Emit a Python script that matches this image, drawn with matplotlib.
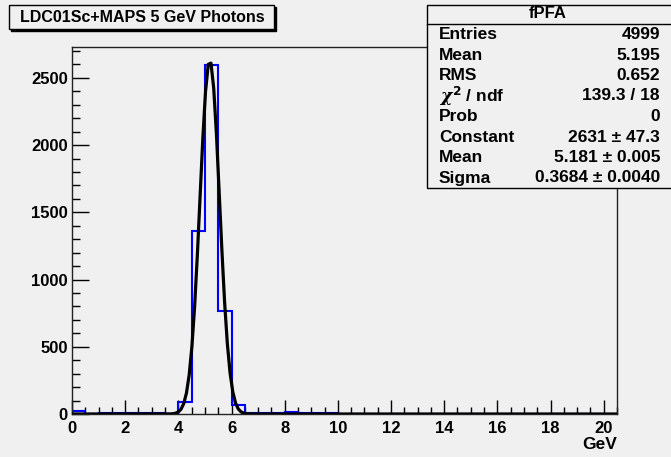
import numpy as np
import matplotlib
matplotlib.use("Agg")
import matplotlib.pyplot as plt
from matplotlib.patches import Rectangle
from matplotlib.ticker import MultipleLocator

# histogram: 41 bins of 0.5 GeV from 0 to 20.5
bin_lo = 0.0
bin_width = 0.5
counts = [21, 3, 5, 8, 8, 5, 5, 3, 89, 1365, 2596, 764, 67, 5, 5, 8, 14, 10, 10, 8,
          0, 0, 0, 0, 0, 0, 0, 0, 0, 0, 0, 0, 0, 0, 0, 0, 0, 0, 0, 0, 0]

# gaussian fit parameters (from stats box)
fit_const = 2631
fit_mean = 5.181
fit_sigma = 0.3684

stats_labels = ["Entries", "Mean", "RMS", r"$\chi^{2}$ / ndf", "Prob", "Constant", "Mean", "Sigma"]
stats_values = ["4999", "5.195", "0.652", "139.3 / 18", "0", "2631 ± 47.3", "5.181 ± 0.005", "0.3684 ± 0.0040"]

title = "LDC01Sc+MAPS 5 GeV Photons"
stats_title = "fPFA"

bg = "#f0f0f0"
plt.rcParams["font.family"] = ["Liberation Sans", "DejaVu Sans"]
plt.rcParams["font.weight"] = "bold"
plt.rcParams["mathtext.fontset"] = "custom"
plt.rcParams["mathtext.it"] = "DejaVu Serif:italic"

W, H = 671, 457
fig = plt.figure(figsize=(W / 100, H / 100), dpi=100, facecolor=bg)

def fx(px):
    return px / W

def fy(py):
    return 1 - py / H

ax = fig.add_axes([fx(72), fy(414), fx(617) - fx(72), fy(47) - fy(414)], facecolor=bg)

edges = bin_lo + bin_width * np.arange(len(counts) + 1)
ax.stairs(counts, edges, color="blue", lw=1.5, zorder=2)

# fitted gaussian drawn over the full axis range
xf = np.linspace(0, 20.5, 201)
yf = fit_const * np.exp(-0.5 * ((xf - fit_mean) / fit_sigma) ** 2)
ax.plot(xf, yf, color="black", lw=2.3, zorder=3)

ax.set_xlim(0, 20.5)
ax.set_ylim(0, 2730)

ax.xaxis.set_major_locator(MultipleLocator(2))
ax.xaxis.set_minor_locator(MultipleLocator(0.5))
ax.yaxis.set_major_locator(MultipleLocator(500))
ax.yaxis.set_minor_locator(MultipleLocator(100))

ax.tick_params(axis="x", which="major", direction="in", length=10, width=1, pad=5,
               labelsize=12, top=False)
ax.tick_params(axis="x", which="minor", direction="in", length=5, width=1, top=False)
ax.tick_params(axis="y", which="major", direction="in", length=12, width=1, pad=3,
               labelsize=12, right=False)
ax.tick_params(axis="y", which="minor", direction="in", length=6, width=1, right=False)
for lab in ax.get_xticklabels() + ax.get_yticklabels():
    lab.set_fontweight("bold")
for sp in ax.spines.values():
    sp.set_color("#222222")
    sp.set_linewidth(1)

ax.set_xlabel("GeV", loc="right", fontsize=12.5, fontweight="bold", labelpad=1)

# title box with shadow
fig.patches.append(Rectangle((fx(11), fy(31)), fx(265), fy(7) - fy(31),
                             transform=fig.transFigure, facecolor="black", edgecolor="black", lw=1))
fig.patches.append(Rectangle((fx(9), fy(29)), fx(265), fy(5) - fy(29),
                             transform=fig.transFigure, facecolor=bg, edgecolor="black", lw=1))
fig.text(fx(142), fy(17), title, ha="center", va="center", fontsize=11.5, fontweight="bold")

# stats box
fig.patches.append(Rectangle((fx(427), fy(188)), fx(250), fy(5) - fy(188),
                             transform=fig.transFigure, facecolor=bg, edgecolor="black", lw=1, zorder=5))
fig.lines.append(plt.Line2D([fx(427), 1], [fy(24), fy(24)], transform=fig.transFigure,
                            color="black", lw=1, zorder=6))
fig.text(fx(548), fy(14), stats_title, ha="center", va="center", fontsize=12, fontweight="bold", zorder=7)
for i, (lab, val) in enumerate(zip(stats_labels, stats_values)):
    y = fy(34.5 + 20.5 * i)
    fig.text(fx(439), y, lab, ha="left", va="center", fontsize=12.5, fontweight="bold", zorder=7)
    fig.text(fx(660), y, val, ha="right", va="center", fontsize=12.5, fontweight="bold", zorder=7)

fig.savefig("out.png", dpi=100, facecolor=bg)
